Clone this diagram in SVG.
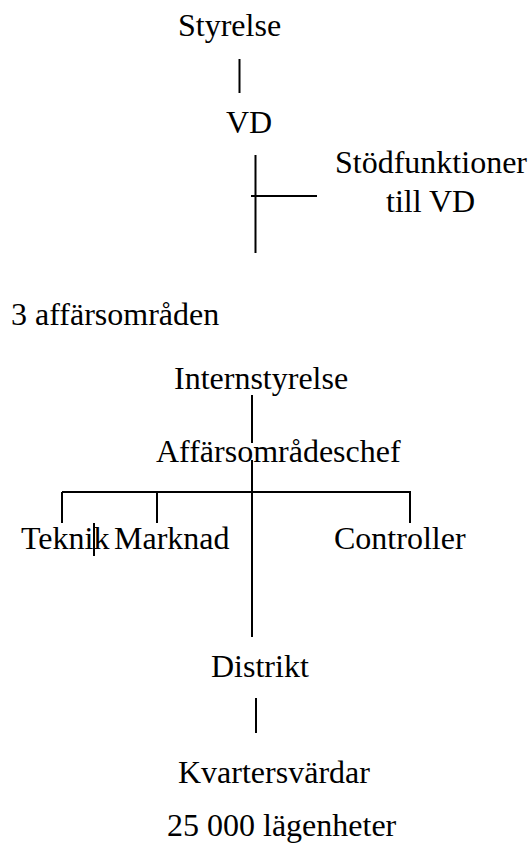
<svg xmlns="http://www.w3.org/2000/svg" width="529" height="843" viewBox="0 0 529 843">
<style>
.t{font-family:'Liberation Serif',Tinos,'Times New Roman','DejaVu Serif',serif;font-size:32px;fill:#000}
.c line{stroke:#000;stroke-width:2}
</style>
<rect width="529" height="843" fill="#fff"/>
<g class="c" id="connectors">
<line x1="239.5" y1="59" x2="239.5" y2="93"/>
<line x1="255.5" y1="155" x2="255.5" y2="253"/>
<line x1="251" y1="196" x2="317" y2="196"/>
<line x1="252" y1="395" x2="252" y2="443"/>
<line x1="252" y1="460" x2="252" y2="637"/>
<line x1="62" y1="492" x2="411" y2="492"/>
<line x1="62" y1="492" x2="62" y2="523"/>
<line x1="157" y1="492" x2="157" y2="523"/>
<line x1="410" y1="492" x2="410" y2="523"/>
<line x1="94" y1="523" x2="94" y2="556"/>
<line x1="256" y1="698" x2="256" y2="733"/>
</g>
<g id="styrelse"><text class="t" x="178" y="36">Styrelse</text></g>
<g id="vd"><text class="t" x="226" y="133">VD</text></g>
<g id="stod"><text class="t" x="335" y="173">Stödfunktioner</text><text class="t" x="386" y="212">till VD</text></g>
<g id="affarsomraden"><text class="t" x="11" y="325">3 affärsområden</text></g>
<g id="internstyrelse"><text class="t" x="174" y="389">Internstyrelse</text></g>
<g id="chef"><text class="t" x="156" y="462">Affärsområdeschef</text></g>
<g id="teknik"><text class="t" x="21" y="549">Teknik</text></g>
<g id="marknad"><text class="t" x="114" y="549">Marknad</text></g>
<g id="controller"><text class="t" x="334" y="549">Controller</text></g>
<g id="distrikt"><text class="t" x="211" y="677">Distrikt</text></g>
<g id="kvarter"><text class="t" x="178" y="783">Kvartersvärdar</text></g>
<g id="lagenheter"><text class="t" x="167" y="836">25 000 lägenheter</text></g>
</svg>
